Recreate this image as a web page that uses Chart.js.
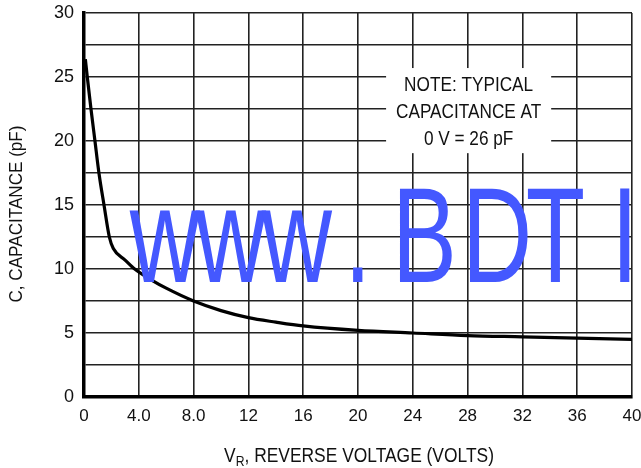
<!DOCTYPE html>
<html>
<head>
<meta charset="utf-8">
<script src="https://cdn.jsdelivr.net/npm/chart.js@4"></script>
<style>
  html, body { margin: 0; padding: 0; background: #fff; }
  #wrap { width: 641px; height: 468px; position: relative; }
</style>
</head>
<body>
<div id="wrap"><canvas id="capChart" width="641" height="468"></canvas></div>
<script>
// dados
const tensao = [0.1, 0.24, 0.51, 0.8, 1.09, 1.46, 1.85, 2.14, 3.0, 3.7, 5.0, 6.0, 8.0, 10, 12, 14, 16, 20, 24, 28, 32, 36, 40];
const capacitancia = [26.4, 25.0, 22.5, 20.0, 17.5, 15.0, 12.5, 11.6, 10.7, 10.0, 9.1, 8.5, 7.5, 6.75, 6.2, 5.85, 5.55, 5.2, 5.0, 4.8, 4.7, 4.6, 4.5];
const xTickLabels = ['0', '4.0', '8.0', '12', '16', '20', '24', '28', '32', '36', '40'];
const yTickLabels = ['0', '5', '10', '15', '20', '25', '30'];
const notaLinhas = ['NOTE: TYPICAL', 'CAPACITANCE AT', '0 V = 26 pF'];

const fonte = '"Liberation Sans", Arial, sans-serif';

// texto "estreito" desenhado com escala horizontal
function textoEstreito(ctx, texto, x, y, escala) {
  ctx.save();
  ctx.translate(x, y);
  ctx.scale(escala, 1);
  ctx.fillText(texto, 0, 0);
  ctx.restore();
}

function semPadding(scale) {
  scale.paddingTop = 0;
  scale.paddingBottom = 0;
  scale.paddingLeft = 0;
  scale.paddingRight = 0;
}

// caixa branca da nota + textos
const notaPlugin = {
  id: 'nota',
  beforeDatasetsDraw(chart) {
    const ctx = chart.ctx;
    const x = chart.scales.x, y = chart.scales.y;
    const x1 = x.getPixelForValue(22.05), x2 = x.getPixelForValue(34.1);
    const y1 = y.getPixelForValue(25.7), y2 = y.getPixelForValue(19.05);
    ctx.save();
    ctx.fillStyle = '#fff';
    ctx.fillRect(x1, y1, x2 - x1, y2 - y1);
    ctx.fillStyle = '#111';
    ctx.font = '20px ' + fonte;
    ctx.textAlign = 'center';
    ctx.textBaseline = 'middle';
    const cx = (x1 + x2) / 2;
    notaLinhas.forEach((t, i) => {
      textoEstreito(ctx, t, cx, 85 + i * 27, 0.86);
    });
    ctx.restore();
  },
  afterDatasetsDraw(chart) {
    // marca d'agua
    const ctx = chart.ctx;
    ctx.save();
    ctx.fillStyle = '#4458ff';
    ctx.font = '135px ' + fonte;
    ctx.textBaseline = 'alphabetic';
    const sx = 0.72;
    const letras = [['w', 129], ['w', 195], ['w', 261], ['.', 353], ['B', 400], ['D', 470], ['T', 528], ['I', 620]];
    letras.forEach(([ch, px]) => {
      const m = ctx.measureText(ch);
      ctx.save();
      ctx.translate(px, 282);
      ctx.scale(sx, 1);
      ctx.fillText(ch, m.actualBoundingBoxLeft, 0);
      ctx.restore();
    });
    ctx.restore();
  },
  afterDraw(chart) {
    const ctx = chart.ctx;
    ctx.save();
    ctx.fillStyle = '#111';
    // titulo eixo y
    ctx.font = '18px ' + fonte;
    ctx.textAlign = 'center';
    ctx.textBaseline = 'middle';
    ctx.translate(17, 214);
    ctx.rotate(-Math.PI / 2);
    textoEstreito(ctx, 'C, CAPACITANCE (pF)', 0, 0, 0.95);
    ctx.restore();

    // titulo eixo x com subscrito
    ctx.save();
    ctx.fillStyle = '#111';
    ctx.textBaseline = 'alphabetic';
    ctx.textAlign = 'left';
    const esc = 0.87;
    const base = 462;
    ctx.font = '20px ' + fonte;
    const p1 = 'V', p3 = ', REVERSE VOLTAGE (VOLTS)';
    const w1 = ctx.measureText(p1).width * esc;
    const w3 = ctx.measureText(p3).width * esc;
    ctx.font = '14px ' + fonte;
    const w2 = ctx.measureText('R').width * esc;
    const x0 = 359 - (w1 + w2 + w3) / 2;
    ctx.font = '20px ' + fonte;
    textoEstreito(ctx, p1, x0, base, esc);
    ctx.font = '14px ' + fonte;
    textoEstreito(ctx, 'R', x0 + w1, base + 4, esc);
    ctx.font = '20px ' + fonte;
    textoEstreito(ctx, p3, x0 + w1 + w2, base, esc);
    ctx.restore();
  }
};

const ctx1 = document.getElementById('capChart');
new Chart(ctx1, {
  type: 'line',
  data: {
    datasets: [{
      label: 'Capacitance',
      data: tensao.map((v, i) => ({ x: v, y: capacitancia[i] })),
      borderColor: '#000',
      borderWidth: 3.2,
      pointRadius: 0,
      fill: false,
      cubicInterpolationMode: 'monotone'
    }]
  },
  options: {
    responsive: false,
    animation: false,
    events: [],
    layout: { padding: { top: 13, right: 9, left: 0, bottom: 0 } },
    plugins: {
      legend: { display: false },
      tooltip: { enabled: false },
      title: { display: false }
    },
    scales: {
      x: {
        type: 'linear',
        min: 0,
        max: 40,
        afterFit(scale) { scale.height = 71; semPadding(scale); },
        ticks: {
          stepSize: 4,
          autoSkip: false,
          maxRotation: 0,
          padding: 9,
          color: '#111',
          font: { family: fonte, size: 17 },
          callback: (v) => xTickLabels[Math.round(v / 4)]
        },
        grid: { color: '#222', lineWidth: 1.6, drawTicks: false },
        border: { color: '#000', width: 3.5 }
      },
      y: {
        min: 0,
        max: 30,
        afterFit(scale) { scale.width = 84; semPadding(scale); },
        ticks: {
          stepSize: 2.5,
          autoSkip: false,
          padding: 10,
          color: '#111',
          font: { family: fonte, size: 18 },
          callback: (v) => (v % 5 === 0 ? yTickLabels[v / 5] : '')
        },
        grid: { color: '#222', lineWidth: 1.6, drawTicks: false },
        border: { color: '#000', width: 3.5 }
      }
    }
  },
  plugins: [notaPlugin]
});
</script>
</body>
</html>
